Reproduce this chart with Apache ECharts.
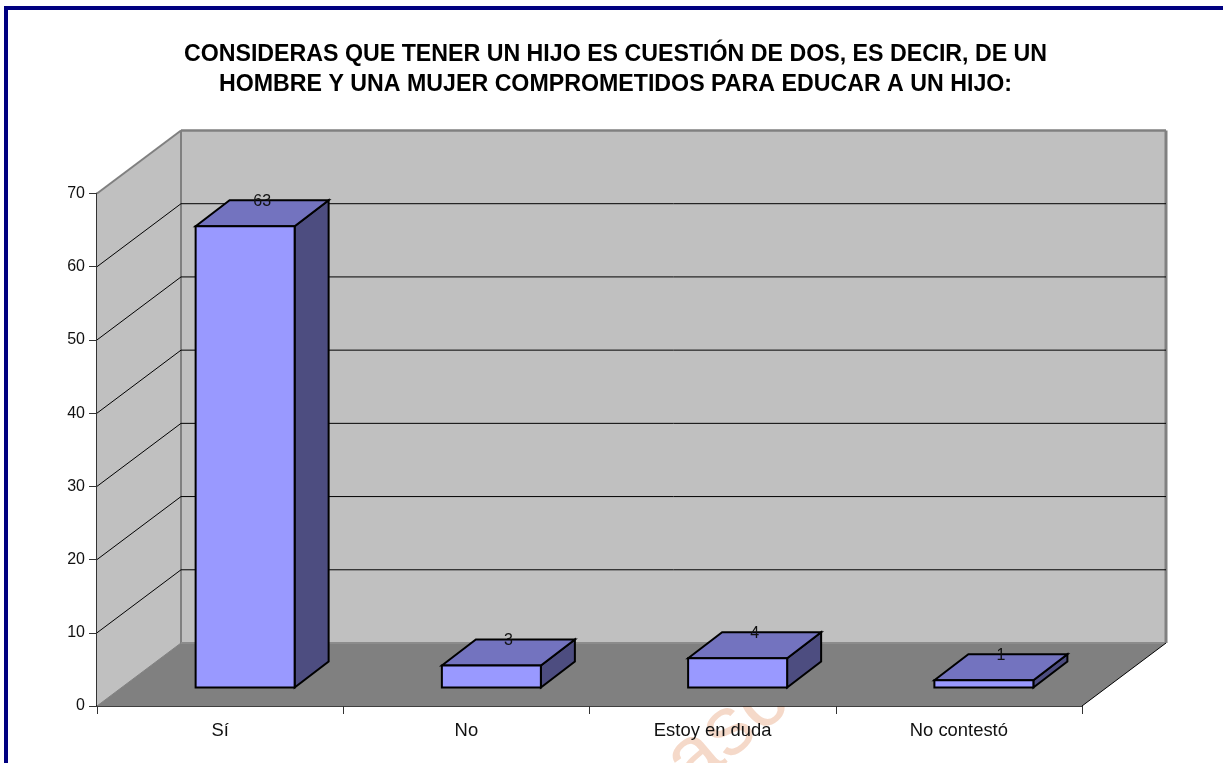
<!DOCTYPE html>
<html>
<head>
<meta charset="utf-8">
<style>
html,body{margin:0;padding:0;background:#fff;overflow:hidden}
#chart{width:1223px;height:763px}
</style>
<script src="https://cdn.jsdelivr.net/npm/echarts@6/dist/echarts.min.js"></script>
</head>
<body>
<div id="chart"></div>
<script>
var categories = ['Sí', 'No', 'Estoy en duda', 'No contestó'];
var values = [63, 3, 4, 1];
var tickValues = [0, 10, 20, 30, 40, 50, 60, 70];
var titleLines = 'CONSIDERAS QUE TENER UN HIJO ES CUESTIÓN DE DOS, ES DECIR, DE UN\nHOMBRE Y UNA MUJER COMPROMETIDOS PARA EDUCAR A UN HIJO:';

var FONT = '"Liberation Sans", Arial, sans-serif';
var DX = 84, DY = -63;         // full depth of the 3D box
var FX = 25, FY = -18.5;       // front of the bars relative to the front plane
var BX = 34, BY = -26;         // depth of a bar
var BAR_W = 99;

function poly(points, fill, stroke, lw) {
  return {type: 'polygon', shape: {points: points},
          style: {fill: fill, stroke: stroke || null, lineWidth: lw || 0, lineJoin: 'miter'}};
}
function line(x1, y1, x2, y2, color, lw) {
  return {type: 'line', shape: {x1: x1, y1: y1, x2: x2, y2: y2},
          style: {stroke: color, lineWidth: lw, fill: null}};
}

function renderBox(params, api) {
  var v = api.value(0);
  var p = api.coord([0, v]);
  var size = api.size([1, 0]);
  var x0 = p[0] - size[0] / 2;
  var x1 = x0 + size[0] * categories.length;
  var y = p[1];
  var top = tickValues[tickValues.length - 1];
  var children = [];
  if (params.dataIndex === 0) {
    var yTop = api.coord([0, top])[1];
    children.push(poly([[x0 + DX, yTop + DY], [x1 + DX, yTop + DY], [x1 + DX, y + DY], [x0 + DX, y + DY]], '#C0C0C0'));
    children.push(poly([[x0, yTop], [x0 + DX, yTop + DY], [x0 + DX, y + DY], [x0, y]], '#C0C0C0'));
    children.push(poly([[x0, y], [x0 + DX, y + DY], [x1 + DX, y + DY], [x1, y]], '#808080'));
    children.push(line(x0 + DX, yTop + DY, x0 + DX, y + DY, '#808080', 2));
    children.push(line(x1 + DX, yTop + DY, x1 + DX, y + DY, '#808080', 3));
    children.push(line(x0 + DX, y + DY, x1 + DX, y + DY, '#8c8c8c', 2));
    children.push(line(x0, y, x0 + DX, y + DY, '#808080', 1));
    children.push(line(x1, y, x1 + DX, y + DY, '#000000', 1));
  } else if (v === top) {
    children.push(line(x0, y, x0 + DX, y + DY, '#808080', 2));
    children.push(line(x0 + DX, y + DY, x1 + DX, y + DY, '#808080', 2.5));
  } else {
    children.push(line(x0, y, x0 + DX, y + DY, '#000000', 1));
    children.push(line(x0 + DX, y + DY, x1 + DX, y + DY, '#000000', 1));
  }
  return {type: 'group', children: children};
}

function renderBar(params, api) {
  var i = api.value(0), v = api.value(1);
  var top = api.coord([i, v]);
  var base = api.coord([i, 0]);
  var l = top[0] + FX - BAR_W / 2, r = l + BAR_W;
  var t = top[1] + FY, b = base[1] + FY;
  var st = '#000000', lw = 2;
  return {type: 'group', children: [
    poly([[r, t], [r + BX, t + BY], [r + BX, b + BY], [r, b]], '#4D4D80', st, lw),
    poly([[l, t], [l + BX, t + BY], [r + BX, t + BY], [r, t]], '#7373BF', st, lw),
    poly([[l, t], [r, t], [r, b], [l, b]], '#9999FF', st, lw),
    {type: 'text', style: {text: String(v), x: (l + r) / 2 + BX / 2, y: t + BY + 1,
      fill: '#111', font: '16px ' + FONT, align: 'center', verticalAlign: 'middle'}, z2: 10}
  ]};
}

var chart = echarts.init(document.getElementById('chart'), null, {renderer: 'canvas'});
chart.setOption({
  backgroundColor: '#ffffff',
  animation: false,
  title: {
    text: titleLines, left: 610.5, top: 35, textAlign: 'center',
    textStyle: {fontFamily: FONT, fontWeight: 'bold', fontSize: 23.2, lineHeight: 30, color: '#000'}
  },
  grid: {left: 97, top: 193.5, width: 985, height: 512.5, containLabel: false},
  xAxis: {
    type: 'category', data: categories,
    axisLine: {onZero: false, lineStyle: {color: '#000', width: 1.5}},
    axisTick: {show: true, length: 8, alignWithLabel: false, lineStyle: {color: '#333'}},
    axisLabel: {margin: 16, fontFamily: FONT, fontSize: 18.4, color: '#111', interval: 0},
    splitLine: {show: false}
  },
  yAxis: {
    type: 'value', min: 0, max: 70, interval: 10,
    axisLine: {show: true, lineStyle: {color: '#333', width: 2}},
    axisTick: {show: true, length: 8, lineStyle: {color: '#333'}},
    axisLabel: {margin: 12, fontFamily: FONT, fontSize: 16, color: '#111'},
    splitLine: {show: false}
  },
  graphic: [
    {type: 'rect', shape: {x: 4, y: 6, width: 1219, height: 4}, style: {fill: '#000080'}, z: 0},
    {type: 'rect', shape: {x: 4, y: 6, width: 4, height: 757}, style: {fill: '#000080'}, z: 0},
    {type: 'text', x: 745, y: 717, rotation: 0.7, originX: 0, originY: 0,
     style: {text: 'asco', x: 0, y: 0, fill: '#F5D9C9', font: '84px ' + FONT, align: 'center', verticalAlign: 'middle'},
     z: -1}
  ],
  series: [
    {type: 'custom', coordinateSystem: 'cartesian2d', clip: false, silent: true, z: 1,
     encode: {x: 1, y: 0},
     data: tickValues.map(function (t) { return [t, 0]; }),
     renderItem: renderBox
    },
    {type: 'custom', coordinateSystem: 'cartesian2d', clip: false, silent: true, z: 2,
     encode: {x: 0, y: 1},
     data: values.map(function (v, i) { return [i, v]; }),
     renderItem: renderBar
    }
  ]
});
</script>
</body>
</html>
